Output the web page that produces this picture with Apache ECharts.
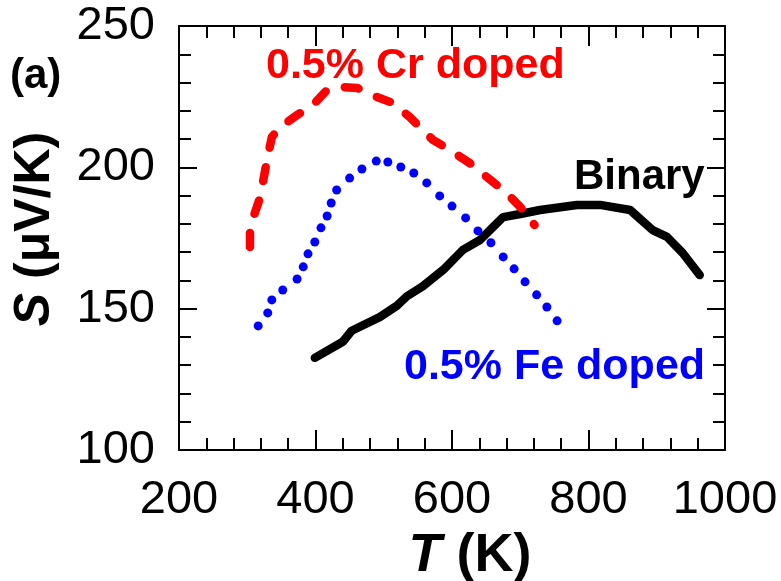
<!DOCTYPE html>
<html><head><meta charset="utf-8">
<script src="https://cdn.jsdelivr.net/npm/echarts@6/dist/echarts.min.js"></script>
<style>html,body{margin:0;padding:0;background:#fff}#c{width:781px;height:581px}</style>
</head><body><div id="c"></div>
<script>
var binaryT = [399,440,453,494,519,534,557,587,616,641,675,700,729,783,817,861,894,915,938,963];
var binaryS = [132.6,138.3,142.2,147,151,154.4,157.9,163.7,170.8,174.3,182.4,183.5,184.9,186.7,186.7,184.9,177.8,175.4,169.7,161.9];
var crT = [304,304,319,329,336,348,373,396,417,440,461,490,513,538,557,572,597,626,651,680,700,721];
var crS = [171.8,178.9,189.5,202.6,210.7,214.2,218.5,222,227.4,228.4,228.1,224.9,222.8,217.8,213.2,209.7,206.1,201.5,196.6,190.9,186,179.6];
var feT = [316,330,336,352,373,382,389,399,408,417,423,431,450,468,489,506,525,544,563,582,600,620,638,657,675,691,707,724,739,754];
var feS = [143.9,148.5,153.1,156.6,160.5,164.8,169.4,173.6,178.6,182.8,187.4,192,196.2,199.4,202.2,201.9,200.1,198,194.5,189.9,186.3,182.1,177.5,173.3,168.3,164.1,159.5,154.9,150.6,145.7];
var xTicks = [200,400,600,800,1000];
var yTicks = [100,150,200,250];

function zip(a,b){return a.map(function(v,i){return [v,b[i]];});}
var FF = '"Liberation Sans", Arial, sans-serif';
var chart = echarts.init(document.getElementById('c'), null, {renderer:'canvas'});
var axisLineStyle = {color:'#000', width:2};
function fmt(v){return String(v);}
function xa(pos, show){
  return {type:'value', position:pos, min:xTicks[0], max:xTicks[xTicks.length-1], interval:200,
    axisLine:{show:true, onZero:false, lineStyle:axisLineStyle},
    axisTick:{show:true, inside:true, length:20, lineStyle:{color:'#000', width:2}},
    minorTick:{show:true, splitNumber:5, length:12, lineStyle:{color:'#000', width:2}},
    splitLine:{show:false},
    axisLabel:{show:show, margin:27, color:'#000', fontSize:47, fontFamily:FF, formatter:fmt}};
}
function ya(pos, show){
  return {type:'value', position:pos, min:yTicks[0], max:yTicks[yTicks.length-1], interval:50,
    axisLine:{show:true, onZero:false, lineStyle:axisLineStyle},
    axisTick:{show:true, inside:true, length:18, lineStyle:{color:'#000', width:2}},
    minorTick:{show:true, splitNumber:5, length:12, lineStyle:{color:'#000', width:2}},
    splitLine:{show:false},
    axisLabel:{show:show, margin:24, color:'#000', fontSize:47, fontFamily:FF, formatter:fmt}};
}
chart.setOption({
  animation:false,
  grid:{left:179, right:56, top:26, bottom:131, containLabel:false},
  xAxis:[xa('bottom', true), xa('top', false)],
  yAxis:[ya('left', true), ya('right', false)],
  series:[
    {type:'line', data:zip(binaryT,binaryS), showSymbol:false, lineStyle:{color:'#000', width:8.5, cap:'round', join:'round'}},
    {type:'line', data:zip(crT,crS), showSymbol:false, lineStyle:{color:'#ff0000', width:8.5, type:[14,20], cap:'round', join:'round'}},
    {type:'line', data:zip(feT,feS), showSymbol:true, symbol:'circle', symbolSize:9,
      itemStyle:{color:'#0000ff', borderWidth:0}, lineStyle:{width:0, opacity:0}}
  ],
  graphic:[
    {type:'text', left:10, top:55, style:{text:'(a)', fill:'#000', font:'bold 42px '+FF}},
    {type:'text', left:266, top:45, style:{text:'0.5% Cr doped', fill:'#ff0000', font:'bold 43px '+FF}},
    {type:'text', left:574, top:156, style:{text:'Binary', fill:'#000', font:'bold 42px '+FF}},
    {type:'text', left:404, top:346, style:{text:'0.5% Fe doped', fill:'#0000ff', font:'bold 43px '+FF}},
    {type:'text', x:470, y:556, style:{text:'{i|T} (K)', align:'center', verticalAlign:'middle', fill:'#000', font:'bold 54px '+FF,
      rich:{i:{fontStyle:'italic', fontWeight:'bold', fontSize:54, fontFamily:FF}}}},
    {type:'text', x:35, y:229, rotation:Math.PI/2, style:{text:'{i|S} (μV/K)', align:'center', verticalAlign:'middle', fill:'#000', font:'bold 50px '+FF,
      rich:{i:{fontStyle:'italic', fontWeight:'bold', fontSize:50, fontFamily:FF}}}}
  ]
});
</script></body></html>
